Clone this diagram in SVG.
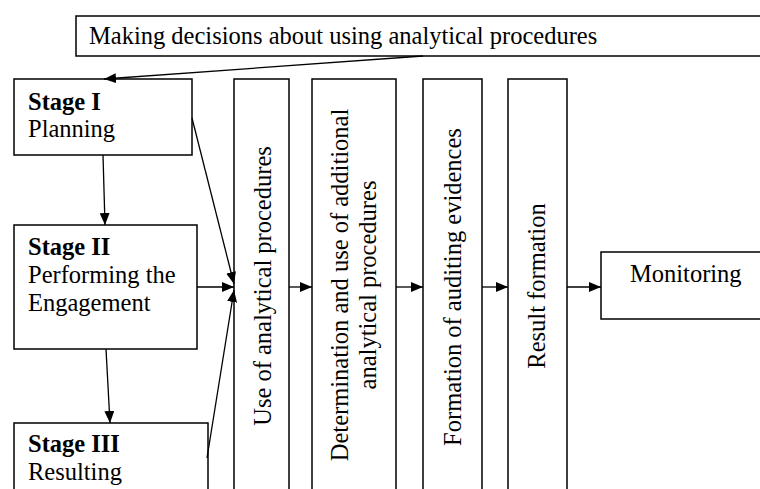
<svg xmlns="http://www.w3.org/2000/svg" width="760" height="489" viewBox="0 0 760 489">
<defs>
<marker id="ah" viewBox="0 0 12 10" refX="12" refY="5" markerWidth="12" markerHeight="10" markerUnits="userSpaceOnUse" orient="auto">
<path d="M0,0 L12,5 L0,10 Z" fill="#000"/>
</marker>
<style>
.box{fill:#fff;stroke:#000;stroke-width:1.5}
.t{font-family:"Liberation Serif","Times New Roman",serif;font-size:24.5px;fill:#000}
.b{font-weight:bold}
.c{stroke:#000;stroke-width:1.3;fill:none;marker-end:url(#ah)}
</style>
</defs>
<rect width="760" height="489" fill="#fff"/>
<g id="decisions">
<rect class="box" x="76" y="16" width="690" height="40"/>
<text class="t" x="89" y="44">Making decisions about using analytical procedures</text>
</g>
<g id="stage1">
<rect class="box" x="14" y="79" width="178" height="76"/>
<text class="t b" x="28" y="110">Stage I</text>
<text class="t" x="28" y="137">Planning</text>
</g>
<g id="stage2">
<rect class="box" x="14" y="225" width="183" height="124"/>
<text class="t b" x="28" y="255">Stage II</text>
<text class="t" x="28" y="283">Performing the</text>
<text class="t" x="28" y="311">Engagement</text>
</g>
<g id="stage3">
<rect class="box" x="14" y="423" width="194" height="80"/>
<text class="t b" x="28" y="452">Stage III</text>
<text class="t" x="28" y="480">Resulting</text>
</g>
<g id="use">
<rect class="box" x="234" y="79" width="55" height="420"/>
<text class="t" text-anchor="middle" transform="translate(261.5,286) rotate(-90)" y="9.5">Use of analytical procedures</text>
</g>
<g id="determination">
<rect class="box" x="312" y="79" width="84" height="420"/>
<text class="t" text-anchor="middle" transform="translate(354,285) rotate(-90)"><tspan x="0" y="-6">Determination and use of additional</tspan><tspan x="0" y="22">analytical procedures</tspan></text>
</g>
<g id="evidences">
<rect class="box" x="423" y="79" width="59" height="420"/>
<text class="t" text-anchor="middle" transform="translate(452.5,287) rotate(-90)" y="8">Formation of auditing evidences</text>
</g>
<g id="result">
<rect class="box" x="508" y="79" width="59" height="420"/>
<text class="t" text-anchor="middle" transform="translate(537.5,286) rotate(-90)" y="7.5">Result formation</text>
</g>
<g id="monitoring">
<rect class="box" x="601" y="252" width="165" height="67"/>
<text class="t" x="630" y="282">Monitoring</text>
</g>
<g id="connectors">
<line class="c" x1="423" y1="56" x2="104" y2="79"/>
<line class="c" x1="103" y1="155" x2="105" y2="225"/>
<line class="c" x1="106" y1="349" x2="110" y2="423"/>
<line class="c" x1="192" y1="118" x2="234" y2="284"/>
<line class="c" x1="197" y1="287" x2="234" y2="287"/>
<line class="c" x1="207" y1="458" x2="234" y2="290"/>
<line class="c" x1="289" y1="287" x2="312" y2="287"/>
<line class="c" x1="396" y1="287" x2="423" y2="287"/>
<line class="c" x1="482" y1="287" x2="508" y2="287"/>
<line class="c" x1="567" y1="287" x2="601" y2="287"/>
</g>
</svg>
